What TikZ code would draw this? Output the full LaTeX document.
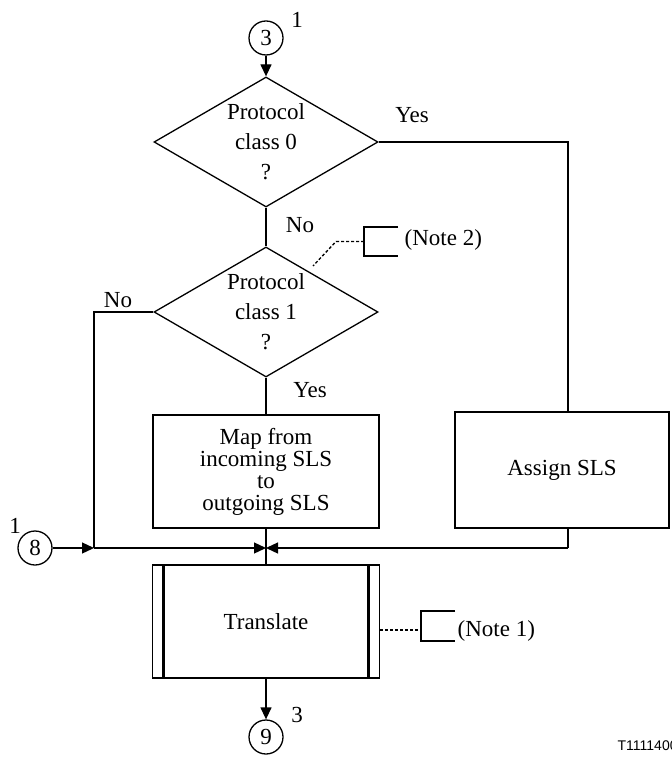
\documentclass[tikz,border=0pt]{standalone}
\usepackage{fontspec}
\setmainfont{Liberation Serif}
\newfontfamily\labelsans{Liberation Sans}
\usetikzlibrary{shapes.geometric,arrows.meta,calc}
\begin{document}
\begin{tikzpicture}[x=0.5pt,y=-0.5pt, line width=0.65pt,
  font=\fontsize{11.5}{15}\selectfont,
  dec/.style={draw, diamond, aspect=1.72, inner sep=0pt, minimum width=112pt, minimum height=65pt, align=center},
  procbox/.style={draw, rectangle, align=center, inner sep=0pt},
  conn/.style={draw, circle, minimum size=17pt, inner sep=0pt},
  tip/.style={-{Triangle[length=6pt,width=5.5pt]}},
  lbl/.style={inner sep=0pt},
  notedash/.style={dash pattern=on 1.5pt off 1pt}]
\useasboundingbox (0,0) rectangle (672,758);

% connectors (circles) and their labels
\node[conn] (c3) at (266,38) {3};
\node[lbl] (c3n) at (297,20) {1};
\node[conn] (c8) at (35,548) {8};
\node[lbl] (c8n) at (15,526) {1};
\node[conn] (c9) at (266,737) {9};
\node[lbl] (c9n) at (297,715) {3};

% decisions
\node[dec] (d1) at (266,142) {Protocol\\class 0\\?};
\node[dec] (d2) at (266,312) {Protocol\\class 1\\?};

% boxes
\node[procbox, minimum width=113pt, minimum height=56.5pt, font=\fontsize{11.5}{11}\selectfont] (map) at (266,471.5) {Map from\\incoming SLS\\to\\outgoing SLS};
\node[procbox, minimum width=107pt, minimum height=58pt] (asg) at (562,470) {Assign SLS};
\node[procbox, minimum width=113.5pt, minimum height=56.5pt] (tr) at (266,621.5) {Translate};
\draw[line width=1.5pt] ($(tr.north west)+(5.75pt,0)$) -- ($(tr.south west)+(5.75pt,0)$);
\draw[line width=1.5pt] ($(tr.north east)+(-5.75pt,0)$) -- ($(tr.south east)+(-5.75pt,0)$);

% helper coordinates
\coordinate (m) at (266,548);
\coordinate (lc) at (94,548);
\coordinate (rc) at (568,548);
\coordinate (ytop) at (568,142);

% flow lines
\draw[tip] (c3) -- (d1.north);
\draw (d1.south) -- (d2.north);
\draw (d1.east) -- (ytop) -- (asg.north -| ytop);
\draw (d2.south) -- (map.north);
\draw (d2.west) -| (lc);
\draw[tip] (c8) -- (lc);
\draw[tip] (lc) -- (m);
\draw (asg.south -| rc) -- (rc);
\draw[tip] (rc) -- (m);
\draw (map.south) -- (m) -- (tr.north);
\draw[tip] (tr.south) -- (c9);

% branch labels
\node[lbl] (l1) at (300,225) {No};
\node[lbl] (l2) at (118,300) {No};
\node[lbl] (l3) at (412,115) {Yes};
\node[lbl] (l4) at (310,390) {Yes};

% Note 2
\coordinate (b2t) at (398,227);
\coordinate (b2a) at (364,227);
\coordinate (b2b) at (364,256);
\coordinate (b2e) at (398,256);
\coordinate (b2m) at (364,241.5);
\coordinate (b2k) at (336,241.5);
\coordinate (b2d) at (313,266);
\draw (b2t) -- (b2a) -- (b2b) -- (b2e);
\draw[notedash] (b2m) -- (b2k) -- (b2d);
\node[lbl, anchor=west] (n2) at (404,240) {(Note 2)};

% Note 1
\coordinate (b1t) at (455,611);
\coordinate (b1a) at (421,611);
\coordinate (b1b) at (421,641);
\coordinate (b1e) at (455,641);
\coordinate (b1m) at (421,630);
\draw (b1t) -- (b1a) -- (b1b) -- (b1e);
\draw[notedash] (tr.east |- b1m) -- (b1m);
\node[lbl, anchor=west] (n1) at (457,631) {(Note 1)};

% figure id
\node[lbl, anchor=base west, font=\labelsans\fontsize{7}{8}\selectfont] (fid) at (617,750) {T1111400-02};
\end{tikzpicture}
\end{document}
